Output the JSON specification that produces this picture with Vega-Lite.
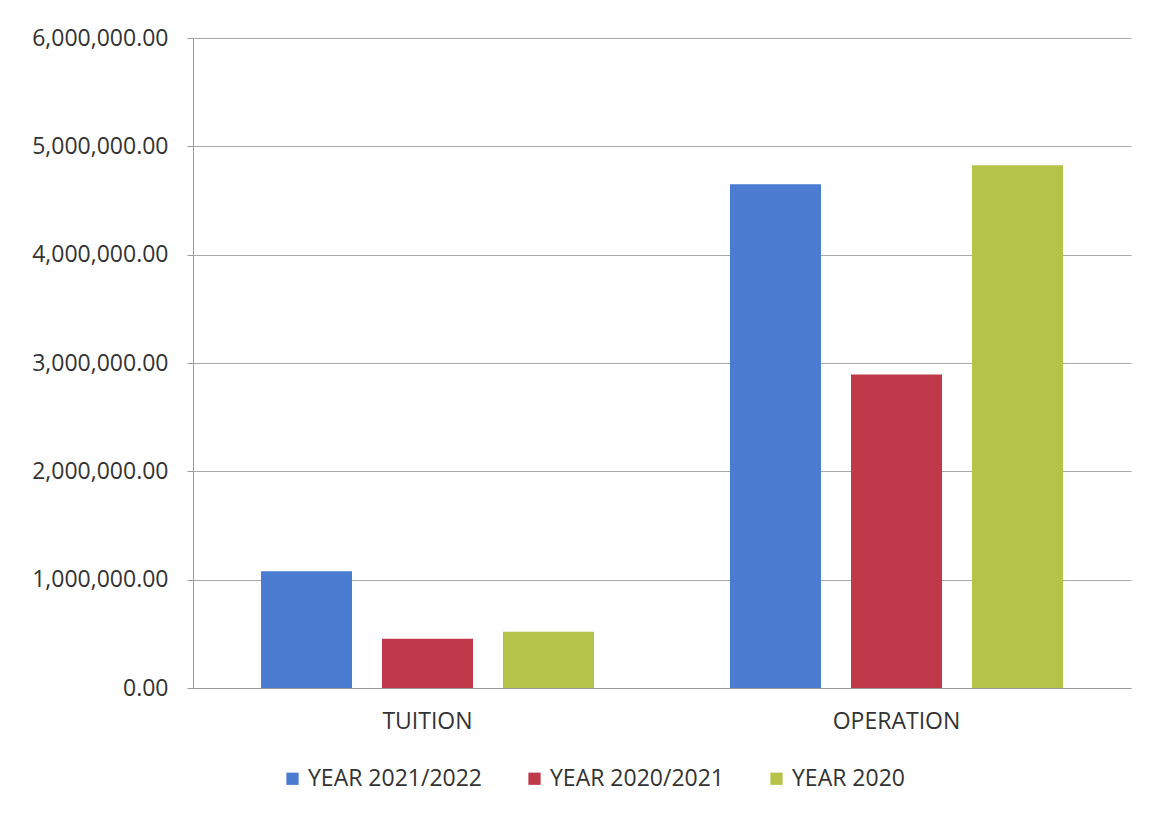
{
  "$schema": "https://vega.github.io/schema/vega-lite/v6.json",
  "width": 938,
  "height": 650,
  "autosize": {"type": "none"},
  "padding": {"left": 193, "top": 38, "right": 21, "bottom": 126},
  "background": "white",
  "data": {
    "values": [
      {"category": "TUITION", "series": "YEAR 2021/2022", "value": 1078000},
      {"category": "TUITION", "series": "YEAR 2020/2021", "value": 455000},
      {"category": "TUITION", "series": "YEAR 2020", "value": 520000},
      {"category": "OPERATION", "series": "YEAR 2021/2022", "value": 4651000},
      {"category": "OPERATION", "series": "YEAR 2020/2021", "value": 2894000},
      {"category": "OPERATION", "series": "YEAR 2020", "value": 4826000}
    ]
  },
  "mark": {"type": "bar"},
  "encoding": {
    "x": {
      "field": "category",
      "type": "nominal",
      "sort": ["TUITION", "OPERATION"],
      "scale": {"paddingInner": 0, "paddingOuter": 0},
      "axis": {
        "title": null,
        "labelAngle": 0,
        "labelFontSize": 23,
        "labelPadding": 22,
        "labelColor": "#333333",
        "ticks": false,
        "domainColor": "#9a9a9a",
        "domainWidth": 1
      }
    },
    "xOffset": {
      "field": "series",
      "type": "nominal",
      "sort": ["YEAR 2021/2022", "YEAR 2020/2021", "YEAR 2020"],
      "scale": {"paddingInner": 0.248, "paddingOuter": 0.562}
    },
    "y": {
      "field": "value",
      "type": "quantitative",
      "scale": {"domain": [0, 6000000], "nice": false},
      "axis": {
        "title": null,
        "format": ",.2f",
        "values": [0, 1000000, 2000000, 3000000, 4000000, 5000000, 6000000],
        "labelFontSize": 23,
        "labelColor": "#333333",
        "labelPadding": 19,
        "tickSize": 6,
        "tickColor": "#9a9a9a",
        "domainColor": "#9a9a9a",
        "gridColor": "#a8a8a8",
        "gridWidth": 1
      }
    },
    "color": {
      "field": "series",
      "type": "nominal",
      "sort": ["YEAR 2021/2022", "YEAR 2020/2021", "YEAR 2020"],
      "scale": {
        "domain": ["YEAR 2021/2022", "YEAR 2020/2021", "YEAR 2020"],
        "range": ["#4a7cd1", "#c0394a", "#b5c449"]
      },
      "legend": {
        "title": null,
        "orient": "none",
        "direction": "horizontal",
        "legendX": 88,
        "legendY": 729,
        "symbolType": "square",
        "symbolSize": 150,
        "symbolStrokeWidth": 0,
        "labelFontSize": 23,
        "labelLimit": 400,
        "labelColor": "#333333",
        "labelOffset": 4,
        "columnPadding": 41
      }
    }
  },
  "config": {
    "view": {"stroke": null},
    "font": "Open Sans"
  }
}
